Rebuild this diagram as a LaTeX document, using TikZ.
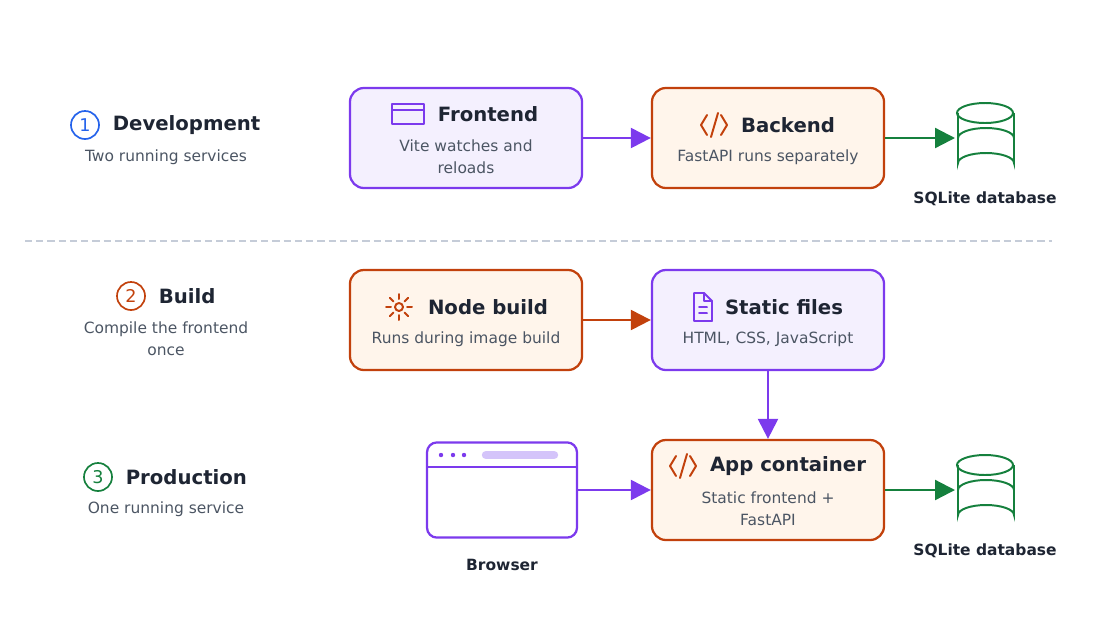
\documentclass[tikz,border=0pt]{standalone}
\usepackage{fontspec}
\setmainfont{DejaVu Sans}
\usetikzlibrary{arrows.meta,positioning,calc}
\definecolor{purp}{HTML}{7C3AED}
\definecolor{purpfill}{HTML}{F4F0FE}
\definecolor{purplite}{HTML}{D4C4FA}
\definecolor{oran}{HTML}{C2410C}
\definecolor{oranfill}{HTML}{FFF5EB}
\definecolor{gree}{HTML}{15803D}
\definecolor{blu}{HTML}{2563EB}
\definecolor{ink}{HTML}{1E2533}
\definecolor{sub}{HTML}{4B5563}
\definecolor{dashc}{HTML}{C5CCD8}
\begin{document}
\begin{tikzpicture}[x=0.025cm, y=-0.025cm, >={Triangle[length=0.5cm,width=0.5cm]}]
\tikzset{
  box/.style={draw, line width=1.6pt, rounded corners=0.35cm, minimum width=5.8cm, minimum height=2.5cm},
  purpbox/.style={box, draw=purp, fill=purpfill},
  oranbox/.style={box, draw=oran, fill=oranfill},
  title/.style={font=\fontsize{14}{16}\selectfont\bfseries, text=ink},
  desc/.style={font=\fontsize{11}{15.5}\selectfont, text=sub, align=center},
  dblabel/.style={font=\fontsize{11}{13}\selectfont\bfseries, text=ink},
  stepnum/.style={circle, draw, line width=1.2pt, inner sep=0pt, minimum size=0.7cm, font=\fontsize{12.5}{14}\selectfont},
  flow/.style={->, line width=1.6pt},
  icon/.style={line width=1.4pt, line cap=round, line join=round}
}
\useasboundingbox (0,0) rectangle (1110,640);

% left column
\node[stepnum, draw=blu, text=blu] (one) at (85,125) {1};
\node[title, right=0.2cm of one] (dev) {Development};
\node[desc] (devsub) at (166,157) {Two running services};
\node[stepnum, draw=oran, text=oran] (two) at (131,296) {2};
\node[title, right=0.2cm of two] (bld) {Build};
\node[desc] (bldsub) at (166,339) {Compile the frontend\\once};
\node[stepnum, draw=gree, text=gree] (three) at (98,477) {3};
\node[title, right=0.2cm of three] (prod) {Production};
\node[desc] (prodsub) at (166,509) {One running service};

\draw[dashc, line width=1.2pt, dash pattern=on 5pt off 3pt] (25,241) -- (1052,241);

% row 1
\node[purpbox] (front) at (466,138) {};
\node[title] (fronttitle) at (488,114) {Frontend};
\node[desc] at (466,157) {Vite watches and\\reloads};
\draw[icon, purp] (392,104) rectangle (424,124) (392,110) -- (424,110);
\node[oranbox] (back) at (768,138) {};
\node[title] at (788,125) {Backend};
\node[desc] at (768,157) {FastAPI runs separately};
\draw[icon, oran] (707,115) -- (701,125) -- (707,135) (718,113) -- (711,137) (721,115) -- (727,125) -- (721,135);
\coordinate (db1) at (955,138);
\draw[gree, line width=1.4pt, fill=white] (958,113) -- (958,163) arc[start angle=180, end angle=360, x radius=28, y radius=10] -- (1014,113);
\draw[gree, line width=1.4pt] (985,113) ellipse[x radius=28, y radius=10];
\draw[gree, line width=1.4pt] (958,138) arc[start angle=180, end angle=360, x radius=28, y radius=10];
\node[dblabel] at (985,199) {SQLite database};
\draw[flow, purp] (front) -- (back);
\draw[flow, gree] (back) -- (db1);

% row 2
\node[oranbox] (nodebld) at (466,320) {};
\node[title] at (488,307) {Node build};
\node[desc] at (466,339) {Runs during image build};
\draw[icon, oran] (399,307) circle[radius=4];
\foreach \a in {0,45,...,315}
  \draw[icon, oran] ($(399,307)+(\a:8)$) -- ($(399,307)+(\a:13)$);
\node[purpbox] (static) at (768,320) {};
\node[title] at (784,307) {Static files};
\node[desc] at (768,339) {HTML, CSS, JavaScript};
\draw[icon, purp] (694,293) -- (704,293) -- (712,301) -- (712,321) -- (694,321) -- cycle (704,293) -- (704,301) -- (712,301) (699,307) -- (707,307) (699,313) -- (707,313);
\draw[flow, oran] (nodebld) -- (static);

% row 3
\node[draw=purp, line width=1.6pt, rounded corners=0.25cm, fill=white, minimum width=3.75cm, minimum height=2.38cm] (browser) at (502,490) {};
\draw[purp, line width=1.6pt] (427,467) -- (577,467);
\foreach \x in {441,453,464} \fill[purp] (\x,455) circle[radius=2.2];
\draw[purplite, line width=6pt, line cap=round] (486,455) -- (554,455);
\node[dblabel] at (502,565) {Browser};
\node[oranbox] (app) at (768,490) {};
\node[title] at (788,466) {App container};
\node[desc] at (768,509) {Static frontend +\\FastAPI};
\draw[icon, oran] (676,456) -- (670,466) -- (676,476) (687,454) -- (680,478) (690,456) -- (696,466) -- (690,476);
\coordinate (db2) at (955,490);
\draw[gree, line width=1.4pt, fill=white] (958,465) -- (958,515) arc[start angle=180, end angle=360, x radius=28, y radius=10] -- (1014,465);
\draw[gree, line width=1.4pt] (985,465) ellipse[x radius=28, y radius=10];
\draw[gree, line width=1.4pt] (958,490) arc[start angle=180, end angle=360, x radius=28, y radius=10];
\node[dblabel] at (985,551) {SQLite database};
\draw[flow, purp] (static) -- (app);
\draw[flow, purp] (browser) -- (app);
\draw[flow, gree] (app) -- (db2);
\end{tikzpicture}
\end{document}
